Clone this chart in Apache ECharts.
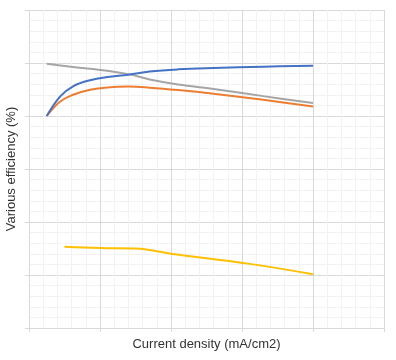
<!DOCTYPE html>
<html><head><meta charset="utf-8">
<style>html,body{margin:0;padding:0;background:#fff}#c{width:396px;height:360px}</style>
<script src="https://cdn.jsdelivr.net/npm/echarts@6/dist/echarts.min.js"></script>
</head><body><div id="c"></div>
<script>
const xName = 'Current density (mA/cm2)';
const yName = 'Various efficiency (%)';
const blueX = [25, 44, 62, 86, 110, 140, 170, 210, 260, 330, 400];
const blueY = [80, 87.4, 91.2, 93.5, 94.7, 95.6, 96.8, 97.6, 98.1, 98.6, 99.0];
const orangeX = [25, 44, 62, 86, 110, 140, 170, 210, 260, 330, 400];
const orangeY = [80, 85.5, 88.0, 89.9, 90.8, 91.1, 90.7, 89.8, 88.4, 86.1, 83.6];
const grayX = [25, 62, 110, 140, 170, 210, 260, 330, 400];
const grayY = [99.7, 98.5, 97.1, 95.8, 93.8, 91.9, 90.2, 87.5, 84.9];
const yellowX = [50, 100, 150, 206, 311, 400];
const yellowY = [30.7, 30.2, 30.0, 27.8, 24.2, 20.3];

const zip = (xs, ys) => xs.map((x, i) => [x, ys[i]]);
const mk = (xs, ys, color) => ({
  type: 'line', data: zip(xs, ys), smooth: 0.4, symbol: 'none',
  lineStyle: { color: color, width: 2 }, itemStyle: { color: color }
});
const chart = echarts.init(document.getElementById('c'), null, { renderer: 'canvas' });
const axisCommon = {
  type: 'value',
  axisLabel: { show: false },
  axisLine: { show: true, lineStyle: { color: '#d9d9d9', width: 1 } },
  axisTick: { show: true, length: 4, lineStyle: { color: '#d9d9d9' } },
  splitLine: { show: true, lineStyle: { color: '#d9d9d9', width: 1 } },
  minorTick: { show: false, splitNumber: 5 },
  minorSplitLine: { show: true, lineStyle: { color: '#f2f2f2', width: 1 } },
  nameLocation: 'middle',
  nameTextStyle: { fontFamily: 'Liberation Sans', fontSize: 13, color: '#333333' }
};
chart.setOption({
  animation: false,
  grid: { left: 29, top: 10, right: 12, bottom: 32, containLabel: false, outerBoundsMode: 'none' },
  xAxis: Object.assign({}, axisCommon, { min: 0, max: 500, interval: 100, name: xName, nameGap: 10 }),
  yAxis: Object.assign({}, axisCommon, { min: 0, max: 120, interval: 20, name: yName, nameGap: 11 }),
  series: [
    mk(grayX, grayY, '#a5a5a5'),
    mk(orangeX, orangeY, '#ed7d31'),
    mk(blueX, blueY, '#4472c4'),
    mk(yellowX, yellowY, '#ffc000')
  ]
});
</script></body></html>
